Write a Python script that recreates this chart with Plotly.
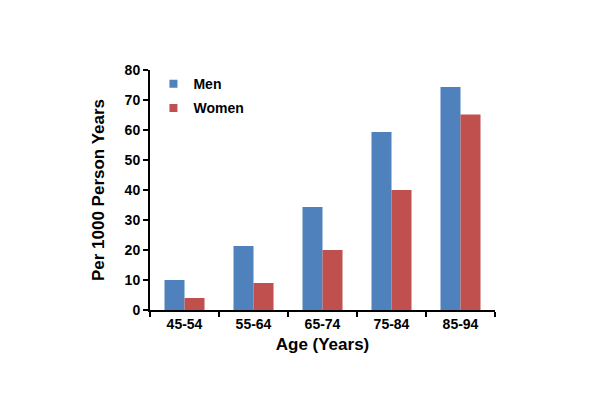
import plotly.graph_objects as go

categories = ["45-54", "55-64", "65-74", "75-84", "85-94"]
men = [10, 21.3, 34.3, 59.3, 74.3]
women = [4, 9, 20, 40, 65.2]
y_ticks = [0, 10, 20, 30, 40, 50, 60, 70, 80]
series_names = ["Men", "Women"]
colors = ["#4F81BD", "#C0504D"]

fig = go.Figure()
for name, vals, col in zip(series_names, [men, women], colors):
    fig.add_trace(go.Bar(x=categories, y=vals, name=name, marker_color=col,
                         marker_line_width=0, showlegend=False))
    # legend entry with a small square marker
    fig.add_trace(go.Scatter(x=[None], y=[None], mode="markers", name=f"<b>{name}</b>",
                             marker=dict(symbol="square", size=8, color=col),
                             legendgroup=name, showlegend=True))

# page body has an 8px default margin, so margins are offset accordingly
fig.update_layout(
    width=600, height=400,
    margin=dict(l=142, r=113, t=62, b=98, autoexpand=False),
    paper_bgcolor="white", plot_bgcolor="white",
    barmode="group", bargap=0.42, bargroupgap=0,
    font=dict(family="Arial, Liberation Sans, sans-serif", color="black"),
    showlegend=True,
    legend=dict(x=0.01, y=1.008, xanchor="left", yanchor="top",
                font=dict(size=14, color="black"),
                bgcolor="rgba(0,0,0,0)", tracegroupgap=3, itemwidth=30),
    xaxis=dict(
        title=dict(text="<b>Age (Years)</b>", font=dict(size=17), standoff=7),
        tickfont=dict(size=14),
        ticktext=[f"<b>{c}</b>" for c in categories], tickvals=categories,
        showline=True, linecolor="black", linewidth=2,
        ticks="outside", tickson="boundaries", ticklen=5, tickwidth=2, tickcolor="black",
        showgrid=False, automargin=False,
    ),
    yaxis=dict(
        title=dict(text="<b>Per 1000 Person Years</b>", font=dict(size=17), standoff=16),
        range=[0, 80], tickvals=y_ticks,
        ticktext=[f"<b>{v}</b>" for v in y_ticks],
        tickfont=dict(size=14),
        showline=True, linecolor="black", linewidth=2,
        ticks="outside", ticklen=5, tickwidth=2, tickcolor="black",
        showgrid=False, zeroline=False, automargin=False,
    ),
)

fig.write_html("out.html")
